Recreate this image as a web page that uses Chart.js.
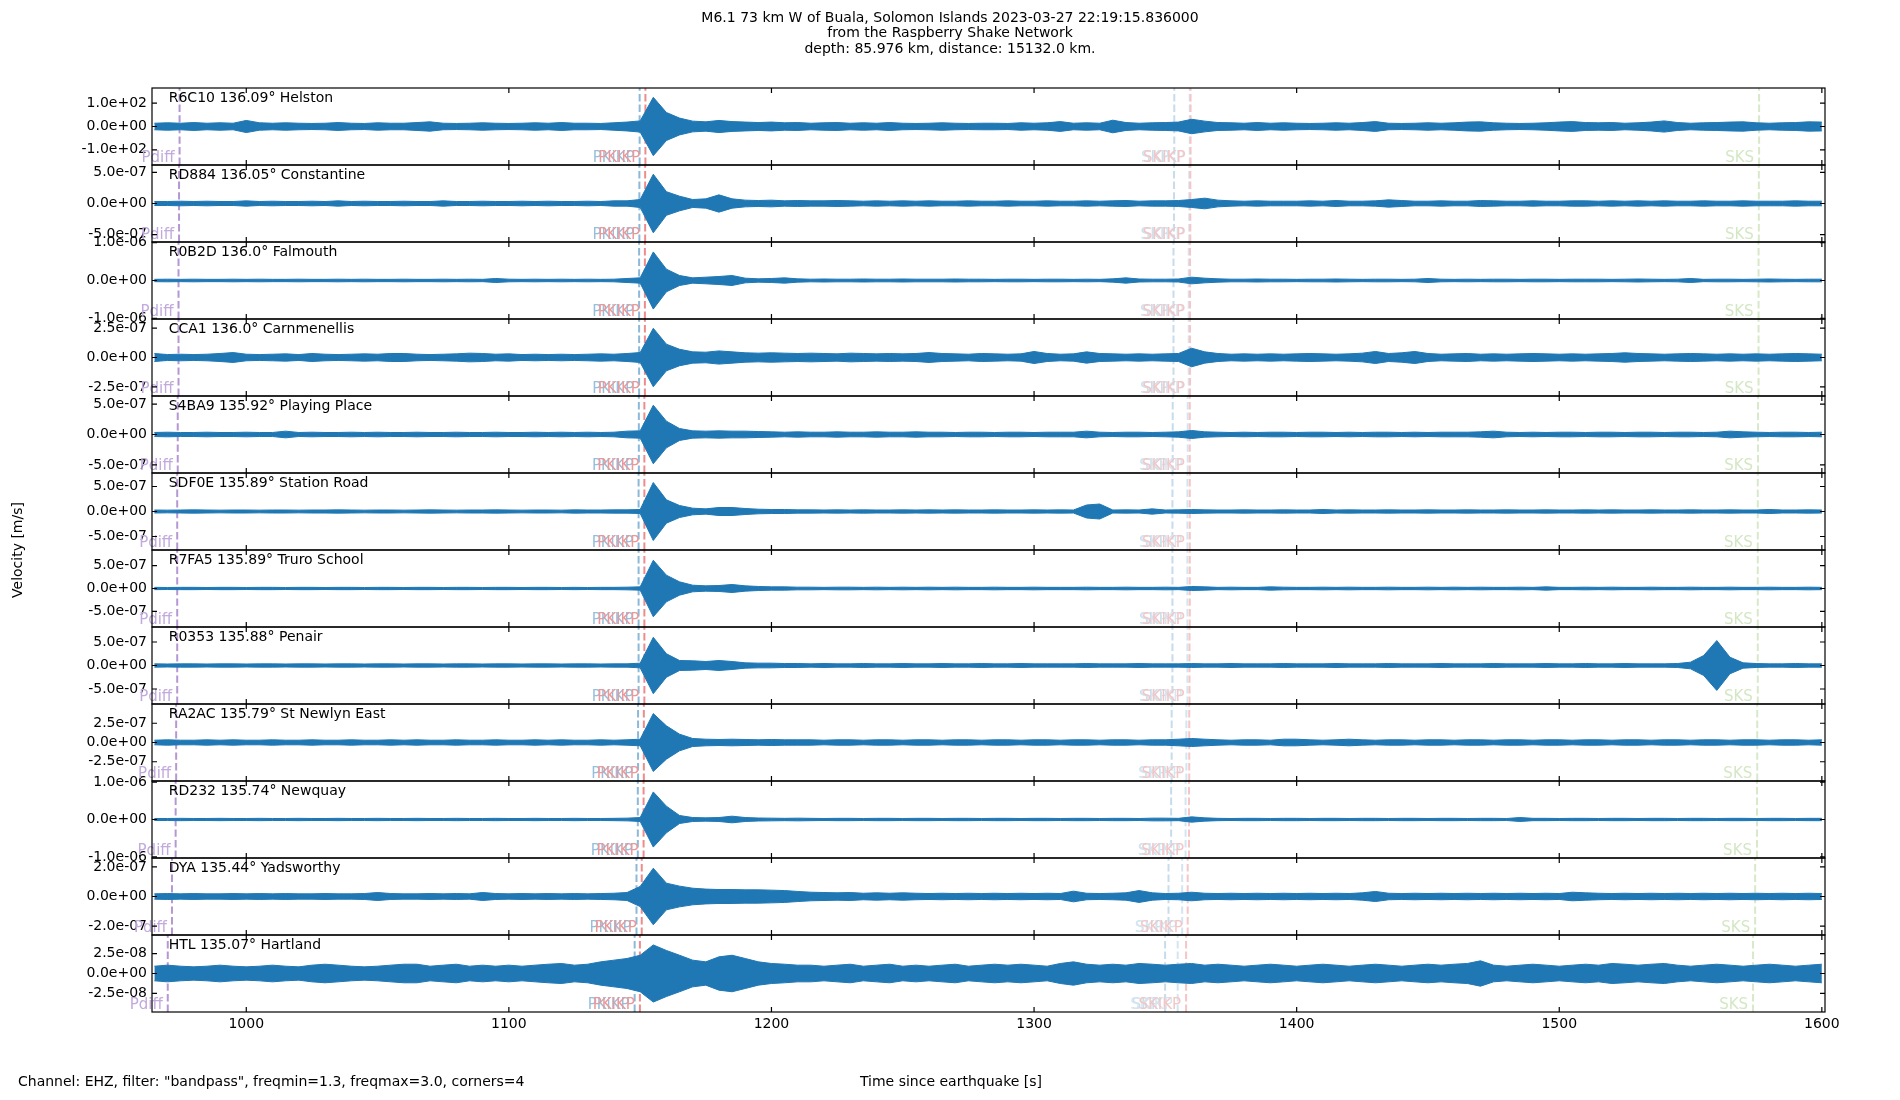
<!DOCTYPE html>
<html lang="en">
<head>
  <meta charset="UTF-8">
  <title>M6.1 Buala - Raspberry Shake record section</title>
  <script src="https://cdn.jsdelivr.net/npm/chart.js"></script>
  <style>
    html, body { margin: 0; padding: 0; background: #fff; }
    #wrap { position: relative; width: 1900px; height: 1100px; }
  </style>
</head>
<body>
  <div id="wrap"><canvas id="section"></canvas></div>

  <script>
    // stations, top to bottom
    const stations = ['R6C10', 'RD884', 'R0B2D', 'CCA1', 'S4BA9', 'SDF0E', 'R7FA5', 'R0353', 'RA2AC', 'RD232', 'DYA', 'HTL'];
    const distances = ['136.09', '136.05', '136.0', '136.0', '135.92', '135.89', '135.89', '135.88', '135.79', '135.74', '135.44', '135.07'];
    const places = ['Helston', 'Constantine', 'Falmouth', 'Carnmenellis', 'Playing Place', 'Station Road', 'Truro School', 'Penair', 'St Newlyn East', 'Newquay', 'Yadsworthy', 'Hartland'];

    // envelope sample times [s since origin]
    const times = [
      965, 970, 975, 980, 985, 990, 995, 1000, 1005, 1010,
      1015, 1020, 1025, 1030, 1035, 1040, 1045, 1050, 1055, 1060,
      1065, 1070, 1075, 1080, 1085, 1090, 1095, 1100, 1105, 1110,
      1115, 1120, 1125, 1130, 1135, 1140, 1145, 1150, 1155, 1160,
      1165, 1170, 1175, 1180, 1185, 1190, 1195, 1200, 1205, 1210,
      1215, 1220, 1225, 1230, 1235, 1240, 1245, 1250, 1255, 1260,
      1265, 1270, 1275, 1280, 1285, 1290, 1295, 1300, 1305, 1310,
      1315, 1320, 1325, 1330, 1335, 1340, 1345, 1350, 1355, 1360,
      1365, 1370, 1375, 1380, 1385, 1390, 1395, 1400, 1405, 1410,
      1415, 1420, 1425, 1430, 1435, 1440, 1445, 1450, 1455, 1460,
      1465, 1470, 1475, 1480, 1485, 1490, 1495, 1500, 1505, 1510,
      1515, 1520, 1525, 1530, 1535, 1540, 1545, 1550, 1555, 1560,
      1565, 1570, 1575, 1580, 1585, 1590, 1595, 1600
    ];

    // peak amplitude envelopes
    // R6C10 in counts, all others in nm/s
    const envR6C10 = [
      14, 16, 14, 17, 14, 16, 14, 26, 16, 14,  16, 14, 13, 14, 17, 14, 13, 16, 14, 14,
      17, 20, 14, 13, 14, 16, 14, 13, 14, 16,  14, 17, 14, 14, 13, 16, 19, 24, 125, 60,
      36, 23, 20, 26, 21, 19, 17, 19, 16, 17,  14, 16, 17, 14, 16, 14, 17, 14, 13, 14,
      16, 14, 13, 14, 14, 13, 16, 14, 16, 21,  14, 16, 14, 27, 17, 14, 16, 17, 19, 31,
      23, 17, 16, 14, 17, 14, 16, 14, 13, 14,  16, 14, 17, 21, 14, 13, 14, 16, 14, 16,
      19, 20, 16, 14, 13, 14, 16, 19, 21, 17,  16, 17, 14, 16, 19, 24, 17, 14, 16, 17,
      19, 20, 16, 14, 16, 17, 20, 19
    ];
    const envRD884 = [
      32, 32, 37, 32, 37, 32, 32, 43, 32, 37,  32, 32, 37, 32, 43, 32, 37, 32, 32, 37,
      32, 32, 43, 32, 32, 37, 32, 32, 37, 32,  37, 32, 32, 37, 32, 43, 43, 64, 471, 190,
      118, 64, 75, 139, 75, 54, 48, 54, 43, 48,  43, 43, 48, 43, 37, 43, 37, 43, 37, 43,
      37, 37, 43, 37, 37, 43, 37, 37, 43, 37,  37, 43, 37, 43, 48, 37, 43, 43, 48, 64,
      86, 54, 43, 37, 43, 37, 37, 37, 43, 37,  48, 37, 37, 43, 59, 48, 37, 37, 43, 37,
      37, 48, 43, 37, 37, 43, 37, 37, 43, 43,  37, 43, 37, 43, 37, 43, 37, 37, 43, 37,
      37, 43, 37, 37, 37, 43, 37, 37
    ];
    const envR0B2D = [
      31, 35, 31, 35, 31, 31, 35, 31, 35, 31,  31, 35, 31, 31, 35, 31, 35, 31, 31, 35,
      31, 31, 35, 31, 35, 31, 53, 35, 31, 35,  31, 35, 31, 35, 31, 35, 53, 70, 757, 300,
      132, 70, 88, 106, 132, 62, 44, 53, 70, 44,  35, 40, 35, 35, 40, 35, 35, 40, 35, 35,
      35, 40, 35, 35, 31, 35, 35, 31, 35, 35,  31, 35, 31, 44, 70, 40, 35, 35, 40, 88,
      62, 44, 35, 35, 40, 35, 35, 31, 35, 35,  40, 35, 31, 35, 35, 31, 35, 53, 35, 31,
      35, 31, 35, 35, 31, 35, 35, 31, 35, 35,  35, 31, 35, 40, 35, 31, 35, 53, 31, 35,
      35, 31, 35, 40, 35, 31, 35, 35
    ];
    const envCCA1 = [
      34, 25, 28, 25, 28, 34, 42, 28, 25, 28,  31, 25, 34, 28, 25, 28, 31, 28, 34, 34,
      28, 25, 28, 31, 37, 34, 28, 31, 25, 28,  25, 28, 25, 28, 31, 28, 34, 42, 248, 113,
      70, 48, 45, 56, 48, 40, 37, 40, 37, 34,  37, 34, 31, 37, 34, 31, 34, 31, 34, 42,
      34, 31, 28, 34, 31, 28, 31, 51, 34, 28,  31, 48, 34, 31, 28, 31, 28, 31, 34, 79,
      48, 34, 28, 31, 28, 31, 28, 31, 34, 31,  28, 31, 37, 51, 34, 40, 51, 34, 28, 31,
      34, 28, 31, 28, 31, 34, 31, 28, 31, 28,  31, 34, 40, 34, 31, 28, 31, 34, 31, 28,
      31, 28, 31, 28, 31, 34, 31, 28
    ];
    const envS4BA9 = [
      33, 38, 33, 33, 38, 33, 33, 38, 33, 33,  55, 33, 38, 33, 33, 38, 33, 38, 33, 33,
      38, 33, 33, 38, 33, 33, 38, 33, 33, 38,  33, 38, 33, 38, 33, 38, 55, 60, 481, 219,
      98, 60, 55, 60, 55, 55, 49, 44, 38, 44,  38, 38, 44, 38, 38, 44, 38, 38, 44, 38,
      38, 33, 38, 38, 33, 38, 38, 33, 38, 38,  38, 55, 38, 33, 38, 38, 33, 38, 44, 66,
      44, 38, 33, 38, 33, 38, 38, 33, 38, 38,  33, 38, 33, 38, 38, 33, 38, 33, 38, 38,
      38, 44, 55, 38, 33, 38, 33, 38, 38, 33,  38, 38, 33, 38, 38, 33, 38, 38, 33, 38,
      55, 44, 38, 33, 38, 38, 33, 38
    ];
    const envSDF0E = [
      30, 27, 30, 33, 30, 27, 30, 30, 27, 30,  30, 27, 30, 30, 33, 30, 27, 30, 30, 27,
      30, 33, 30, 27, 30, 30, 33, 30, 27, 30,  30, 27, 33, 30, 30, 33, 33, 40, 580, 233,
      120, 66, 53, 80, 80, 60, 46, 40, 40, 33,  33, 30, 33, 30, 33, 30, 30, 33, 30, 33,
      30, 33, 30, 30, 33, 30, 30, 33, 30, 33,  30, 130, 150, 30, 33, 30, 53, 30, 33, 40,
      33, 30, 30, 33, 30, 30, 33, 30, 30, 40,  30, 33, 30, 30, 33, 30, 30, 33, 30, 30,
      33, 30, 30, 33, 30, 30, 33, 30, 30, 33,  30, 33, 30, 30, 33, 30, 30, 33, 30, 30,
      33, 30, 30, 40, 30, 30, 33, 30
    ];
    const envR7FA5 = [
      25, 22, 25, 25, 22, 25, 25, 22, 25, 25,  22, 25, 25, 22, 25, 25, 22, 25, 25, 22,
      25, 25, 22, 25, 25, 22, 25, 25, 22, 25,  25, 22, 25, 22, 25, 25, 29, 36, 616, 290,
      145, 72, 58, 65, 87, 58, 44, 36, 36, 29,  29, 25, 29, 29, 25, 29, 25, 29, 25, 29,
      25, 29, 25, 25, 29, 25, 25, 29, 25, 25,  25, 29, 25, 25, 29, 25, 25, 29, 25, 44,
      36, 25, 29, 25, 25, 36, 29, 25, 25, 29,  25, 29, 25, 25, 29, 25, 25, 29, 25, 29,
      25, 29, 25, 25, 29, 25, 36, 25, 25, 29,  25, 29, 25, 25, 29, 25, 25, 29, 25, 25,
      29, 25, 25, 29, 25, 25, 29, 25
    ];
    const envR0353 = [
      35, 32, 35, 35, 32, 35, 35, 32, 35, 35,  32, 35, 35, 32, 35, 35, 32, 35, 35, 32,
      35, 35, 32, 35, 35, 32, 35, 35, 32, 35,  35, 32, 35, 35, 32, 35, 35, 50, 600, 250,
      106, 100, 85, 106, 85, 57, 50, 50, 42, 42,  35, 42, 35, 35, 42, 35, 35, 42, 35, 35,
      42, 35, 35, 42, 35, 35, 42, 35, 35, 35,  35, 42, 35, 35, 35, 42, 35, 35, 35, 42,
      35, 35, 42, 35, 35, 35, 42, 35, 35, 35,  42, 35, 35, 35, 42, 35, 35, 35, 42, 35,
      35, 35, 42, 35, 35, 35, 42, 35, 35, 42,  35, 35, 42, 35, 35, 35, 42, 71, 212, 531,
      177, 57, 42, 35, 35, 42, 35, 35
    ];
    const envRA2AC = [
      30, 35, 30, 30, 35, 30, 35, 30, 30, 35,  30, 30, 35, 30, 30, 35, 30, 30, 35, 30,
      35, 30, 30, 35, 30, 30, 35, 30, 30, 35,  30, 35, 30, 30, 35, 30, 35, 43, 376, 216,
      108, 52, 43, 39, 43, 39, 35, 39, 35, 35,  35, 30, 35, 35, 30, 35, 35, 30, 35, 35,
      30, 35, 35, 30, 35, 35, 30, 35, 35, 30,  35, 35, 30, 35, 35, 30, 35, 35, 43, 52,
      43, 35, 30, 35, 35, 30, 43, 43, 35, 30,  35, 43, 35, 30, 35, 35, 30, 35, 35, 30,
      35, 35, 30, 35, 35, 30, 35, 35, 30, 35,  35, 30, 35, 35, 30, 35, 35, 30, 35, 35,
      30, 35, 35, 30, 35, 35, 30, 35
    ];
    const envRD232 = [
      27, 27, 31, 27, 27, 31, 27, 27, 31, 27,  27, 31, 27, 27, 31, 27, 27, 31, 27, 27,
      31, 27, 27, 31, 27, 27, 31, 27, 27, 31,  27, 27, 31, 27, 27, 31, 36, 53, 738, 356,
      107, 53, 44, 53, 89, 53, 40, 36, 31, 36,  31, 27, 31, 31, 27, 31, 31, 27, 31, 31,
      27, 31, 31, 27, 31, 31, 27, 31, 31, 27,  31, 31, 27, 31, 31, 27, 36, 36, 31, 71,
      44, 31, 27, 31, 31, 27, 31, 31, 27, 31,  31, 27, 31, 31, 27, 31, 31, 27, 31, 31,
      27, 31, 31, 27, 53, 31, 31, 27, 31, 31,  27, 31, 31, 27, 31, 31, 27, 31, 31, 27,
      31, 31, 27, 31, 31, 27, 31, 31
    ];
    const envDYA = [
      18, 20, 18, 20, 18, 18, 20, 18, 20, 18,  20, 18, 18, 20, 18, 18, 20, 27, 20, 18,
      18, 20, 18, 20, 18, 27, 20, 18, 20, 18,  20, 18, 20, 18, 20, 22, 27, 68, 191, 90,
      70, 56, 50, 47, 47, 45, 45, 43, 40, 34,  29, 27, 25, 27, 22, 25, 22, 25, 22, 20,
      22, 20, 22, 20, 22, 20, 22, 20, 22, 20,  36, 22, 20, 22, 25, 40, 25, 20, 22, 29,
      22, 20, 22, 20, 22, 20, 22, 20, 22, 20,  22, 20, 25, 34, 22, 20, 22, 20, 22, 20,
      22, 20, 22, 20, 22, 20, 22, 20, 29, 25,  22, 20, 22, 20, 22, 20, 22, 20, 22, 20,
      22, 20, 22, 20, 22, 20, 22, 20
    ];
    const envHTL = [
      9.2, 10.5, 9.2, 8.4, 9.2, 10.5, 9.2, 8.4, 9.2, 10.5,  9.2, 8.4, 10.5, 11.7, 10.5, 9.2, 8.4, 9.2, 10.5, 11.7,
      11.7, 9.2, 10.5, 11.7, 9.2, 10.5, 9.2, 10.5, 9.2, 10.5,  11.7, 12.6, 10.5, 11.7, 14.7, 16.8, 18.9, 23, 36, 29,
      23, 16.8, 14.7, 21, 23, 18.9, 14.7, 12.6, 11.7, 10.5,  10.5, 9.2, 10.5, 11.7, 9.2, 10.5, 11.7, 9.2, 10.5, 9.2,
      10.5, 11.7, 9.2, 10.5, 11.7, 10.5, 11.7, 10.5, 9.2, 12.6,  14.7, 11.7, 10.5, 11.7, 10.5, 12.6, 11.7, 10.5, 11.7, 12.6,
      10.5, 11.7, 10.5, 9.2, 10.5, 11.7, 10.5, 9.2, 10.5, 11.7,  10.5, 9.2, 10.5, 11.7, 10.5, 9.2, 10.5, 11.7, 10.5, 11.7,
      12.6, 16, 10.5, 9.2, 10.5, 11.7, 10.5, 9.2, 10.5, 11.7,  10.5, 12.6, 11.7, 10.5, 11.7, 12.6, 10.5, 9.2, 10.5, 11.7,
      10.5, 9.2, 10.5, 11.7, 10.5, 9.2, 10.5, 11.7
    ];
    const envelopes = [envR6C10, envRD884, envR0B2D, envCCA1, envS4BA9, envSDF0E,
                       envR7FA5, envR0353, envRA2AC, envRD232, envDYA, envHTL];
    const ampUnit = [1, 1e-9, 1e-9, 1e-9, 1e-9, 1e-9, 1e-9, 1e-9, 1e-9, 1e-9, 1e-9, 1e-9];

    // y limits (+/-) and tick steps per panel
    const yHalfRange = [165, 6.2e-7, 1.02e-6, 3.27e-7, 6.33e-7, 7.7e-7, 8.4e-7, 8.2e-7, 5.0e-7, 1.03e-6, 2.6e-7, 4.85e-8];
    const yTickStep = [100, 5e-7, 1e-6, 2.5e-7, 5e-7, 5e-7, 5e-7, 5e-7, 2.5e-7, 1e-6, 2e-7, 2.5e-8];
    const xTicks = [1000, 1100, 1200, 1300, 1400, 1500, 1600];

    // predicted arrivals [s], one per station
    const phaseNames = ['Pdiff', 'PKiKP', 'PKIKP', 'SKP', 'SKiKP', 'SKIKP', 'SKS'];
    const tPdiff = [974.6, 974.4, 974.2, 974.2, 973.9, 973.7, 973.7, 973.7, 973.3, 973.1, 971.7, 970.1];
    const tPKiKP = [1149.8, 1149.7, 1149.6, 1149.6, 1149.5, 1149.4, 1149.4, 1149.4, 1149.2, 1149.1, 1148.6, 1147.9];
    const tPKIKP = [1152.0, 1151.9, 1151.8, 1151.8, 1151.6, 1151.6, 1151.6, 1151.6, 1151.4, 1151.3, 1150.6, 1149.9];
    const tSKP   = [1353.4, 1353.3, 1353.1, 1353.1, 1352.8, 1352.7, 1352.7, 1352.7, 1352.4, 1352.2, 1351.2, 1349.9];
    const tSKiKP = [1359.3, 1359.1, 1358.9, 1358.9, 1358.5, 1358.4, 1358.4, 1358.4, 1358.0, 1357.7, 1356.4, 1354.7];
    const tSKIKP = [1359.6, 1359.5, 1359.4, 1359.4, 1359.3, 1359.3, 1359.3, 1359.2, 1359.1, 1359.0, 1358.5, 1357.9];
    const tSKS   = [1576.1, 1576.0, 1575.9, 1575.9, 1575.7, 1575.6, 1575.6, 1575.6, 1575.4, 1575.3, 1574.6, 1573.8];
    const phaseTimes = [tPdiff, tPKiKP, tPKIKP, tSKP, tSKiKP, tSKIKP, tSKS];
    const phaseLine = ['#b597d3', '#8db9d9', '#ee8c8d', '#c6dcec', '#d3e5f1', '#f7c5c5', '#d8e9ca'];
    const phaseText = ['#c2aadd', '#97bfdc', '#ea9899', '#cadfed', '#d6e6f1', '#f3c6c6', '#d4e7c4'];

    const FONT = '"DejaVu Sans", "Liberation Sans", sans-serif';
    const TRACE = '#1f77b4';

    function sci(v) {
      // matplotlib style 1.0e+02
      return v.toExponential(1).replace(/e([+-])(\d)$/, (m, s, d) => 'e' + s + '0' + d);
    }

    const datasets = [];
    const scales = {
      x: {
        type: 'linear', position: 'bottom', min: 964.1, max: 1601.2,
        grid: { display: false, drawTicks: false }, border: { display: false },
        afterBuildTicks: s => { s.ticks = xTicks.map(v => ({ value: v })); },
        afterFit: s => { s.height = 88; },
        ticks: { autoSkip: false, maxRotation: 0, minRotation: 0, padding: 4, color: '#000',
                 font: { size: 14 }, callback: v => String(v) }
      }
    };

    stations.forEach((st, i) => {
      const id = 'y' + i;
      const env = envelopes[i];
      datasets.push({
        data: times.map((t, k) => ({ x: t, y: env[k] * ampUnit[i] })),
        yAxisID: id, borderColor: TRACE, borderWidth: 1, pointRadius: 0, fill: false
      });
      datasets.push({
        data: times.map((t, k) => ({ x: t, y: -env[k] * ampUnit[i] })),
        yAxisID: id, borderColor: TRACE, backgroundColor: TRACE, borderWidth: 1, pointRadius: 0, fill: '-1'
      });
      scales[id] = {
        type: 'linear', position: 'left', stack: 'section', stackWeight: 1,
        weight: stations.length - i,
        min: -yHalfRange[i], max: yHalfRange[i],
        grid: { display: false, drawTicks: false }, border: { display: false },
        afterBuildTicks: s => { s.ticks = [-yTickStep[i], 0, yTickStep[i]].map(v => ({ value: v })); },
        afterFit: s => { s.width = 152; },
        ticks: { autoSkip: false, padding: 5, color: '#000', font: { size: 14 }, callback: v => sci(v) }
      };
    });

    const decor = {
      id: 'decor',
      beforeDatasetsDraw(chart) {
        const ctx = chart.ctx;
        const x = chart.scales.x;
        stations.forEach((st, i) => {
          const y = chart.scales['y' + i];
          phaseTimes.forEach((pt, p) => {
            const px = x.getPixelForValue(pt[i]);
            ctx.save();
            ctx.strokeStyle = phaseLine[p];
            ctx.lineWidth = 2;
            ctx.setLineDash([7.4, 3.2]);
            ctx.beginPath();
            ctx.moveTo(px, y.bottom);
            ctx.lineTo(px, y.top);
            ctx.stroke();
            ctx.setLineDash([]);
            ctx.fillStyle = phaseText[p];
            ctx.font = '15px ' + FONT;
            ctx.textAlign = 'right';
            ctx.textBaseline = 'alphabetic';
            ctx.fillText(phaseNames[p], px - 5, y.bottom - 3);
            ctx.restore();
          });
        });
      },
      afterDraw(chart) {
        const ctx = chart.ctx;
        const { left, right } = chart.chartArea;
        const x = chart.scales.x;
        ctx.save();
        ctx.strokeStyle = '#000';
        ctx.lineWidth = 1.2;
        stations.forEach((st, i) => {
          const y = chart.scales['y' + i];
          ctx.strokeRect(left, y.top, right - left, y.bottom - y.top);
          ctx.beginPath();
          [-yTickStep[i], 0, yTickStep[i]].forEach(v => {
            const py = y.getPixelForValue(v);
            ctx.moveTo(left, py); ctx.lineTo(left + 5, py);
            ctx.moveTo(right, py); ctx.lineTo(right - 5, py);
          });
          xTicks.forEach(v => {
            const px = x.getPixelForValue(v);
            ctx.moveTo(px, y.top); ctx.lineTo(px, y.top + 5);
            ctx.moveTo(px, y.bottom); ctx.lineTo(px, y.bottom - 5);
          });
          ctx.stroke();
          ctx.fillStyle = '#000';
          ctx.font = '14px ' + FONT;
          ctx.textAlign = 'left';
          ctx.textBaseline = 'top';
          ctx.fillText(st + ' ' + distances[i] + '\u00b0 ' + places[i], left + 0.01 * (right - left), y.top + 3);
        });

        ctx.fillStyle = '#000';
        ctx.font = '14px ' + FONT;
        ctx.textAlign = 'center';
        ctx.textBaseline = 'middle';
        ctx.fillText('M6.1 73 km W of Buala, Solomon Islands 2023-03-27 22:19:15.836000', 950, 18);
        ctx.fillText('from the Raspberry Shake Network', 950, 33.5);
        ctx.fillText('depth: 85.976 km, distance: 15132.0 km.', 950, 49);
        ctx.fillText('Time since earthquake [s]', 951, 1082);
        ctx.textAlign = 'left';
        ctx.fillText('Channel: EHZ, filter: "bandpass", freqmin=1.3, freqmax=3.0, corners=4', 18, 1082);

        ctx.translate(18, 550);
        ctx.rotate(-Math.PI / 2);
        ctx.textAlign = 'center';
        ctx.fillText('Velocity [m/s]', 0, 0);
        ctx.restore();
      }
    };

    Chart.defaults.font.family = FONT;
    Chart.defaults.font.size = 14;
    Chart.defaults.color = '#000';

    new Chart(document.getElementById('section'), {
      type: 'line',
      data: { datasets: datasets },
      options: {
        responsive: true,
        maintainAspectRatio: false,
        animation: false,
        layout: { padding: { top: 88, right: 75, bottom: 0, left: 0 } },
        elements: { line: { tension: 0 } },
        plugins: { legend: { display: false }, tooltip: { enabled: false }, title: { display: false } },
        scales: scales
      },
      plugins: [decor]
    });
  </script>
</body>
</html>
